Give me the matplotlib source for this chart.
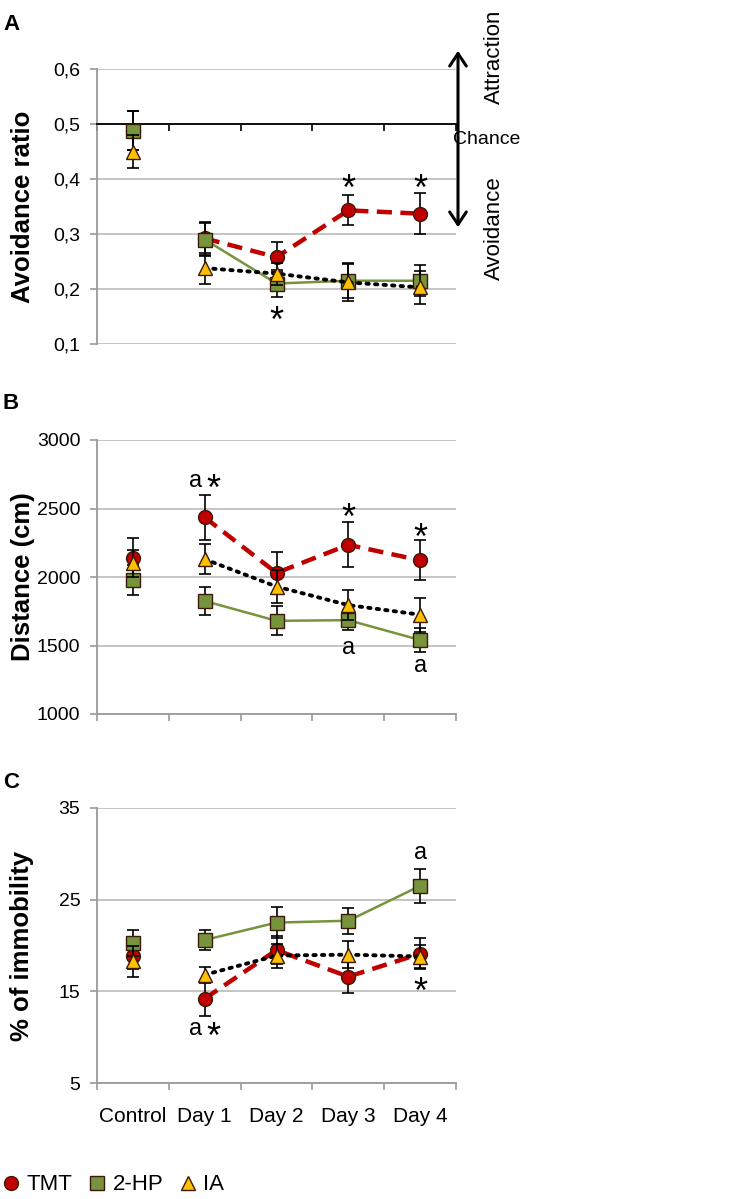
import numpy as np
import matplotlib
matplotlib.use('Agg')
import matplotlib.pyplot as plt
from matplotlib.lines import Line2D
from matplotlib.patches import FancyArrowPatch
from matplotlib.ticker import FuncFormatter

plt.rcParams['font.family'] = ['Liberation Sans', 'DejaVu Sans']

categories = ['Control', 'Day 1', 'Day 2', 'Day 3', 'Day 4']
groups = ['TMT', '2-HP', 'IA']

# panel A - avoidance ratio
ratio_mean = {'TMT': [0.488, 0.292, 0.258, 0.343, 0.337],
              '2-HP': [0.488, 0.290, 0.210, 0.215, 0.215],
              'IA': [0.450, 0.238, 0.228, 0.212, 0.203]}
ratio_err = {'TMT': [0.035, 0.030, 0.027, 0.027, 0.037],
             '2-HP': [0.035, 0.030, 0.025, 0.032, 0.028],
             'IA': [0.030, 0.028, 0.020, 0.033, 0.030]}

# panel B - distance (cm)
dist_mean = {'TMT': [2140, 2435, 2030, 2235, 2122],
             '2-HP': [1980, 1825, 1680, 1685, 1540],
             'IA': [2100, 2130, 1930, 1795, 1725]}
dist_err = {'TMT': [145, 165, 150, 165, 145],
            '2-HP': [110, 100, 105, 75, 90],
            'IA': [100, 110, 120, 110, 125]}

# panel C - % of immobility
immo_mean = {'TMT': [18.9, 14.2, 19.5, 16.6, 19.1],
             '2-HP': [20.3, 20.6, 22.5, 22.7, 26.5],
             'IA': [18.3, 16.8, 18.9, 19.0, 18.8]}
immo_err = {'TMT': [1.5, 1.9, 1.5, 1.8, 1.7],
            '2-HP': [1.4, 1.1, 1.7, 1.4, 1.9],
            'IA': [1.7, 0.9, 1.3, 1.5, 1.3]}

# significance marks (category index, y value, text)
ratio_marks = [(2, 0.157, '*'), (3, 0.397, '*'), (4, 0.397, '*')]
dist_marks = [(1, 2700, 'a *'), (3, 2490, '*'), (4, 2345, '*'), (3, 1483, 'a'), (4, 1350, 'a')]
immo_marks = [(4, 30.1, 'a'), (1, 10.9, 'a *'), (4, 15.8, '*')]

style = {'TMT': dict(color='#C00000', marker='o', mfc='#C00000', ls=(0, (3.4, 1.9)), lw=3.2, z=3),
         '2-HP': dict(color='#77933C', marker='s', mfc='#77933C', ls='-', lw=1.8, z=4),
         'IA': dict(color='black', marker='^', mfc='#FFC000', ls=(0, (0.6, 1.6)), lw=2.8, z=5)}
EDGE = '#3a1a0a'
GRID = '#C4C4C4'
SPINE = '#9A9A9A'
TICK_FS = 14

x = np.arange(len(categories))

fig = plt.figure(figsize=(7.56, 11.99), dpi=100)
W, H = 756., 1199.


def make_ax(top, bottom):
    return fig.add_axes([97 / W, 1 - bottom / H, 359 / W, (bottom - top) / H])


def draw_series(ax, means, errs):
    for g in groups:
        s = style[g]
        m = np.array(means[g], dtype=float)
        e = np.array(errs[g], dtype=float)
        ax.errorbar(x, m, yerr=e, fmt='none', ecolor='black', elinewidth=1.2,
                    capsize=4, capthick=1.2, zorder=s['z'] - 0.5)
        ax.plot(x[1:], m[1:], color=s['color'], ls=s['ls'], lw=s['lw'],
                solid_capstyle='butt', dash_capstyle='round' if g == 'IA' else 'butt',
                zorder=s['z'] - 0.6)
        ax.plot(x, m, ls='none', marker=s['marker'], ms=10, mfc=s['mfc'],
                mec=EDGE, mew=1.0, zorder=s['z'])


def style_ax(ax, ylim, yticks, fmt=None):
    ax.set_xlim(-0.5, 4.5)
    ax.set_ylim(*ylim)
    ax.set_yticks(yticks)
    if fmt:
        ax.yaxis.set_major_formatter(FuncFormatter(fmt))
    ax.set_xticks(np.arange(-0.5, 5, 1))
    ax.set_xticklabels([])
    for sp in ['top', 'right']:
        ax.spines[sp].set_visible(False)
    ax.spines['left'].set_color(SPINE)
    ax.spines['left'].set_linewidth(1.3)
    ax.spines['bottom'].set_color(SPINE)
    ax.spines['bottom'].set_linewidth(1.3)
    ax.grid(axis='y', color=GRID, lw=1.4, zorder=0)
    ax.set_axisbelow(True)
    ax.tick_params(axis='y', length=5, width=1.2, color=SPINE, pad=7, labelsize=TICK_FS)
    ax.tick_params(axis='x', length=5, width=1.2, color=SPINE)


def add_marks(ax, marks):
    for i, yv, t in marks:
        parts = t.split()
        offs = [0] if len(parts) == 1 else [-6.5, 6.5]
        for p, dx in zip(parts, offs):
            if p == '*':
                ax.annotate(p, (i, yv), xytext=(dx, -7), textcoords='offset points',
                            ha='center', va='center', fontsize=26, zorder=6)
            else:
                ax.annotate(p, (i, yv), xytext=(dx, 0), textcoords='offset points',
                            ha='center', va='center', fontsize=17, zorder=6)


# ---------- A ----------
axA = make_ax(69, 344)
draw_series(axA, ratio_mean, ratio_err)
style_ax(axA, (0.1, 0.6), [0.1, 0.2, 0.3, 0.4, 0.5, 0.6],
         lambda v, p: ('%.1f' % v).replace('.', ','))
axA.spines['bottom'].set_position(('data', 0.5))
axA.spines['bottom'].set_color('black')
axA.tick_params(axis='x', color='black')
axA.set_ylabel('Avoidance ratio', fontsize=18.5, fontweight='bold')
axA.yaxis.set_label_coords(-0.172, 0.5)
add_marks(axA, ratio_marks)

# ---------- B ----------
axB = make_ax(440, 714)
draw_series(axB, dist_mean, dist_err)
style_ax(axB, (1000, 3000), [1000, 1500, 2000, 2500, 3000])
axB.set_ylabel('Distance (cm)', fontsize=18.5, fontweight='bold')
axB.yaxis.set_label_coords(-0.172, 0.5)
add_marks(axB, dist_marks)

# ---------- C ----------
axC = make_ax(808, 1083)
draw_series(axC, immo_mean, immo_err)
style_ax(axC, (5, 35), [5, 15, 25, 35])
axC.set_xticks(x, minor=True)
axC.set_xticklabels(categories, minor=True)
axC.tick_params(axis='x', which='minor', length=0, pad=17, labelsize=15)
axC.set_ylabel('% of immobility', fontsize=18.5, fontweight='bold')
axC.yaxis.set_label_coords(-0.175, 0.5)
add_marks(axC, immo_marks)

# panel letters
for lab, yy in [('A', 24), ('B', 403), ('C', 782)]:
    fig.text(3 / W, 1 - yy / H, lab, fontsize=16, fontweight='bold', va='center', ha='left')

# chance / attraction / avoidance annotation
fig.add_artist(FancyArrowPatch(
    (458 / W, 1 - 230 / H), (458 / W, 1 - 48 / H), transform=fig.transFigure,
    arrowstyle='<->,head_length=9,head_width=6', lw=2.2, color='black',
    mutation_scale=1))
fig.text(494 / W, 1 - 57 / H, 'Attraction', rotation=90, fontsize=16, ha='center', va='center')
fig.text(487 / W, 1 - 140 / H, 'Chance', fontsize=14, ha='center', va='center')
fig.text(494 / W, 1 - 228 / H, 'Avoidance', rotation=90, fontsize=16, ha='center', va='center')

# legend
handles = [Line2D([], [], ls='none', marker=style[g]['marker'], ms=10,
                  mfc=style[g]['mfc'], mec=EDGE, mew=1.0) for g in groups]
fig.legend(handles, groups, loc='center left', bbox_to_anchor=(0.0, 1 - 1185 / H),
           ncol=3, frameon=False, fontsize=16, handlelength=0.8, handletextpad=0.3,
           columnspacing=0.7, borderaxespad=0, borderpad=0.1)

fig.savefig('out.png', dpi=100)
